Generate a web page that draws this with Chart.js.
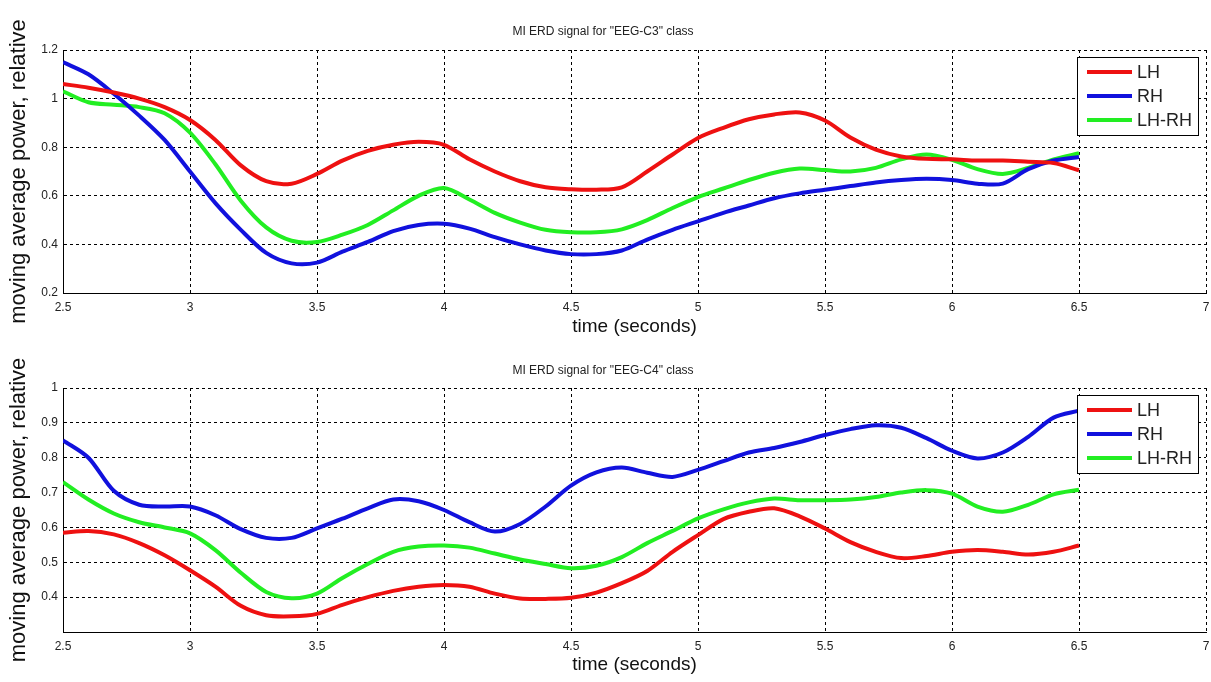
<!DOCTYPE html>
<html>
<head>
<meta charset="utf-8">
<script src="https://cdn.jsdelivr.net/npm/chart.js@4.4.1/dist/chart.umd.min.js"></script>
<style>
  html, body { margin: 0; padding: 0; background: #fff; }
  #wrap { position: relative; width: 1211px; height: 682px; }
  canvas { position: absolute; left: 0; }
</style>
</head>
<body>
<div id="wrap">
  <canvas id="c3Chart" width="1211" height="342" style="top:0"></canvas>
  <canvas id="c4Chart" width="1211" height="340" style="top:342px"></canvas>
</div>
<script>
// time axis (seconds), one sample every 0.1 s
const times = [2.5, 2.6, 2.7, 2.8, 2.9, 3.0, 3.1, 3.2, 3.3, 3.4, 3.5, 3.6, 3.7, 3.8, 3.9, 4.0, 4.1, 4.2, 4.3, 4.4,
               4.5, 4.6, 4.7, 4.8, 4.9, 5.0, 5.1, 5.2, 5.3, 5.4, 5.5, 5.6, 5.7, 5.8, 5.9, 6.0, 6.1, 6.2, 6.3, 6.4, 6.5];

const seriesNames = ['LH', 'RH', 'LH-RH'];

// EEG-C3
const c3LH = [1.06, 1.045, 1.025, 1.0, 0.965, 0.912, 0.83, 0.725, 0.66, 0.65, 0.69, 0.745, 0.785, 0.81, 0.822, 0.81, 0.75, 0.70, 0.66, 0.635,
              0.627, 0.625, 0.635, 0.70, 0.77, 0.838, 0.88, 0.915, 0.935, 0.943, 0.91, 0.84, 0.79, 0.762, 0.752, 0.75, 0.745, 0.745, 0.74, 0.735, 0.705];
const c3RH = [1.15, 1.10, 1.02, 0.93, 0.83, 0.70, 0.57, 0.46, 0.365, 0.322, 0.325, 0.37, 0.41, 0.455, 0.48, 0.485, 0.465, 0.43, 0.40, 0.375,
              0.36, 0.36, 0.375, 0.42, 0.46, 0.495, 0.53, 0.56, 0.59, 0.61, 0.625, 0.64, 0.655, 0.665, 0.67, 0.665, 0.65, 0.65, 0.71, 0.745, 0.76];
const c3Diff = [1.03, 0.985, 0.975, 0.965, 0.94, 0.86, 0.73, 0.58, 0.47, 0.415, 0.41, 0.44, 0.48, 0.54, 0.60, 0.632, 0.585, 0.53, 0.49, 0.46,
                0.45, 0.45, 0.462, 0.50, 0.55, 0.595, 0.63, 0.665, 0.695, 0.712, 0.706, 0.70, 0.715, 0.75, 0.77, 0.748, 0.71, 0.69, 0.715, 0.75, 0.775];

// EEG-C4
const c4LH = [0.585, 0.59, 0.58, 0.555, 0.52, 0.477, 0.43, 0.375, 0.348, 0.345, 0.352, 0.378, 0.40, 0.418, 0.43, 0.435, 0.43, 0.41, 0.396, 0.395,
              0.398, 0.413, 0.44, 0.475, 0.53, 0.578, 0.624, 0.645, 0.655, 0.632, 0.597, 0.558, 0.53, 0.512, 0.518, 0.53, 0.535, 0.53, 0.522, 0.53, 0.548];
const c4RH = [0.85, 0.80, 0.705, 0.665, 0.66, 0.66, 0.635, 0.595, 0.57, 0.57, 0.597, 0.625, 0.655, 0.68, 0.675, 0.65, 0.615, 0.588, 0.61, 0.66,
              0.72, 0.758, 0.772, 0.757, 0.745, 0.765, 0.79, 0.815, 0.828, 0.845, 0.865, 0.882, 0.893, 0.886, 0.856, 0.82, 0.798, 0.815, 0.86, 0.915, 0.935];
const c4Diff = [0.73, 0.68, 0.64, 0.615, 0.60, 0.583, 0.535, 0.47, 0.415, 0.397, 0.41, 0.455, 0.495, 0.53, 0.545, 0.548, 0.542, 0.525, 0.508, 0.495,
                0.483, 0.49, 0.515, 0.555, 0.59, 0.626, 0.652, 0.672, 0.683, 0.678, 0.678, 0.68, 0.687, 0.70, 0.707, 0.697, 0.66, 0.645, 0.665, 0.695, 0.708];

const xTicks = [2.5, 3, 3.5, 4, 4.5, 5, 5.5, 6, 6.5, 7];

const colors = ['#ee1111', '#1111dd', '#22ee22'];
const fontFamily = '"Liberation Sans", Arial, sans-serif';

// legend box drawn inside the plot, top right like matlab
const boxLegend = {
    id: 'boxLegend',
    afterDraw(chart) {
        const ctx = chart.ctx;
        const area = chart.chartArea;
        const x = area.right - 129, y = area.top + 7, w = 121, h = 78;
        ctx.save();
        ctx.fillStyle = '#fff';
        ctx.fillRect(x, y, w, h);
        ctx.strokeStyle = '#000';
        ctx.lineWidth = 1;
        ctx.strokeRect(x + 0.5, y + 0.5, w, h);
        ctx.font = '18px ' + fontFamily;
        ctx.textBaseline = 'middle';
        chart.data.datasets.forEach((ds, i) => {
            const ly = y + 15 + i * 24;
            ctx.strokeStyle = ds.borderColor;
            ctx.lineWidth = 4;
            ctx.beginPath();
            ctx.moveTo(x + 10, ly);
            ctx.lineTo(x + 55, ly);
            ctx.stroke();
            ctx.fillStyle = '#222';
            ctx.fillText(ds.label, x + 60, ly + 1);
        });
        ctx.restore();
    }
};

function makeChart(id, title, series, yMin, yMax, yStep, layout) {
    const ctx = document.getElementById(id).getContext('2d');
    const datasets = series.map((vals, i) => ({
        label: seriesNames[i],
        data: times.map((t, k) => ({ x: t, y: vals[k] })),
        borderColor: colors[i],
        borderWidth: 4,
        pointRadius: 0,
        tension: 0.3,
        fill: false
    }));
    return new Chart(ctx, {
        type: 'line',
        data: { datasets: datasets },
        options: {
            responsive: false,
            animation: false,
            layout: { padding: { left: 0, right: 5, top: 0, bottom: 0 } },
            plugins: {
                legend: { display: false },
                tooltip: { enabled: false },
                title: {
                    display: true,
                    text: title,
                    color: '#222',
                    font: { family: fontFamily, size: 12, weight: 'normal' },
                    padding: { top: layout.titleTop, bottom: layout.titleBottom }
                }
            },
            scales: {
                x: {
                    type: 'linear',
                    min: 2.5,
                    max: 7,
                    afterBuildTicks: (axis) => { axis.ticks = xTicks.map(v => ({ value: v })); },
                    afterFit: (axis) => {
                        axis.height = layout.xHeight;
                        axis.paddingLeft = 0;
                        axis.paddingRight = 0;
                    },
                    grid: { color: '#000', lineWidth: 1, drawTicks: false },
                    border: { color: '#000', width: 1, dash: [3, 3] },
                    ticks: {
                        color: '#222',
                        padding: 7,
                        maxRotation: 0,
                        font: { family: fontFamily, size: 12 },
                        callback: (v) => String(v)
                    },
                    title: {
                        display: true,
                        text: 'time (seconds)',
                        color: '#111',
                        font: { family: fontFamily, size: 19 },
                        padding: { top: 0, bottom: layout.xTitleBottom }
                    }
                },
                y: {
                    min: yMin,
                    max: yMax,
                    afterFit: (axis) => {
                        axis.width = 63;
                        axis.paddingTop = 0;
                        axis.paddingBottom = 0;
                    },
                    grid: { color: '#000', lineWidth: 1, drawTicks: false },
                    border: { color: '#000', width: 1, dash: [3, 3] },
                    ticks: {
                        stepSize: yStep,
                        color: '#222',
                        padding: 5,
                        font: { family: fontFamily, size: 12 },
                        callback: (v) => (layout.hideMin && v < yMin + yStep / 2) ? '' : String(Math.round(v * 10) / 10)
                    },
                    title: {
                        display: true,
                        text: 'moving average power, relative',
                        color: '#111',
                        font: { family: fontFamily, size: 22 },
                        padding: { top: 6, bottom: 0 }
                    }
                }
            }
        },
        plugins: [boxLegend]
    });
}

document.addEventListener('DOMContentLoaded', () => {
    makeChart('c3Chart', 'MI ERD signal for "EEG-C3" class', [c3LH, c3RH, c3Diff], 0.2, 1.2, 0.2,
        { titleTop: 24, titleBottom: 11.6, xHeight: 49, xTitleBottom: 3.6, hideMin: false });
    makeChart('c4Chart', 'MI ERD signal for "EEG-C4" class', [c4LH, c4RH, c4Diff], 0.3, 1.0, 0.1,
        { titleTop: 21, titleBottom: 10.6, xHeight: 50, xTitleBottom: 5.6, hideMin: true });
});
</script>
</body>
</html>
